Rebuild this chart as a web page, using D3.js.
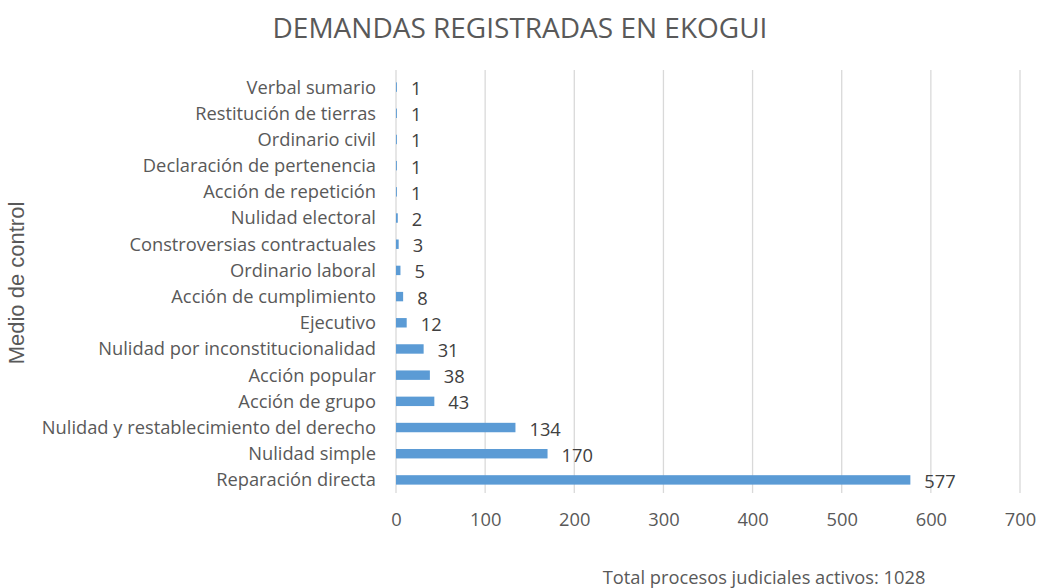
<!DOCTYPE html>
<html><head><meta charset="utf-8">
<script src="https://cdn.jsdelivr.net/npm/d3@7"></script>
<style>body{margin:0;background:#fff}</style>
</head><body>
<svg id="c" width="1045" height="588"></svg>
<script>
const categories = ["Verbal sumario","Restitución de tierras","Ordinario civil","Declaración de pertenencia ","Acción de repetición","Nulidad electoral ","Constroversias contractuales","Ordinario laboral","Acción de cumplimiento","Ejecutivo","Nulidad por inconstitucionalidad","Acción popular","Acción de grupo","Nulidad y restablecimiento del derecho","Nulidad simple ","Reparación directa"];
const values = [1,1,1,1,1,2,3,5,8,12,31,38,43,134,170,577];
const xTicks = [0,100,200,300,400,500,600,700];
const title = "DEMANDAS REGISTRADAS EN EKOGUI";
const yTitle = "Medio de control";
const footer = "Total procesos judiciales activos: 1028";

(function(){
const svg = d3.select("#c");
const font = "'Open Sans', sans-serif";
const fs = 18.3;
const pL = 396, pR = 1020, pT = 74, pB = 493;
const x = d3.scaleLinear().domain([0,700]).range([pL,pR]);
const y = d3.scaleBand().domain(categories).range([pT,pB]).paddingInner(0.64).paddingOuter(0.32);

svg.append("g").selectAll("line").data(xTicks).join("line")
  .attr("x1",d=>x(d)).attr("x2",d=>x(d)).attr("y1",pT-4).attr("y2",pB)
  .attr("stroke","#d9d9d9").attr("stroke-width",1.3);

svg.append("g").selectAll("rect").data(values).join("rect")
  .attr("x",x(0)).attr("y",(d,i)=>y(categories[i]))
  .attr("width",d=>x(d)-x(0)).attr("height",y.bandwidth())
  .attr("fill","#5b9bd5");

svg.append("g").selectAll("text").data(values).join("text")
  .attr("x",d=>x(d)+14).attr("y",(d,i)=>y(categories[i])+y.bandwidth()/2+8)
  .attr("font-family",font).attr("font-size",fs).attr("fill","#404040")
  .text(d=>d);

const yAxis = d3.axisLeft(y).tickSize(0).tickPadding(20);
const gy = svg.append("g").attr("transform",`translate(${pL},0)`).call(yAxis);
gy.select(".domain").remove();
gy.selectAll("text").attr("font-family",font).attr("font-size",fs).attr("fill","#595959").attr("dy","0.35em");

const xAxis = d3.axisBottom(x).tickValues(xTicks).tickSize(0).tickPadding(20);
const gx = svg.append("g").attr("transform",`translate(0,${pB})`).call(xAxis);
gx.select(".domain").remove();
gx.selectAll("text").attr("font-family",font).attr("font-size",fs).attr("fill","#595959");

svg.append("text").attr("x",520).attr("y",38).attr("text-anchor","middle")
  .attr("font-family",font).attr("font-size",28).attr("fill","#595959").text(title);

svg.append("text").attr("transform","translate(24,283) rotate(-90)").attr("text-anchor","middle")
  .attr("font-family","'Liberation Sans', Arial, sans-serif").attr("font-size",22).attr("fill","#595959").text(yTitle);

svg.append("text").attr("x",764).attr("y",584).attr("text-anchor","middle")
  .attr("font-family",font).attr("font-size",fs).attr("fill","#595959").text(footer);
})();
</script>
</body></html>
